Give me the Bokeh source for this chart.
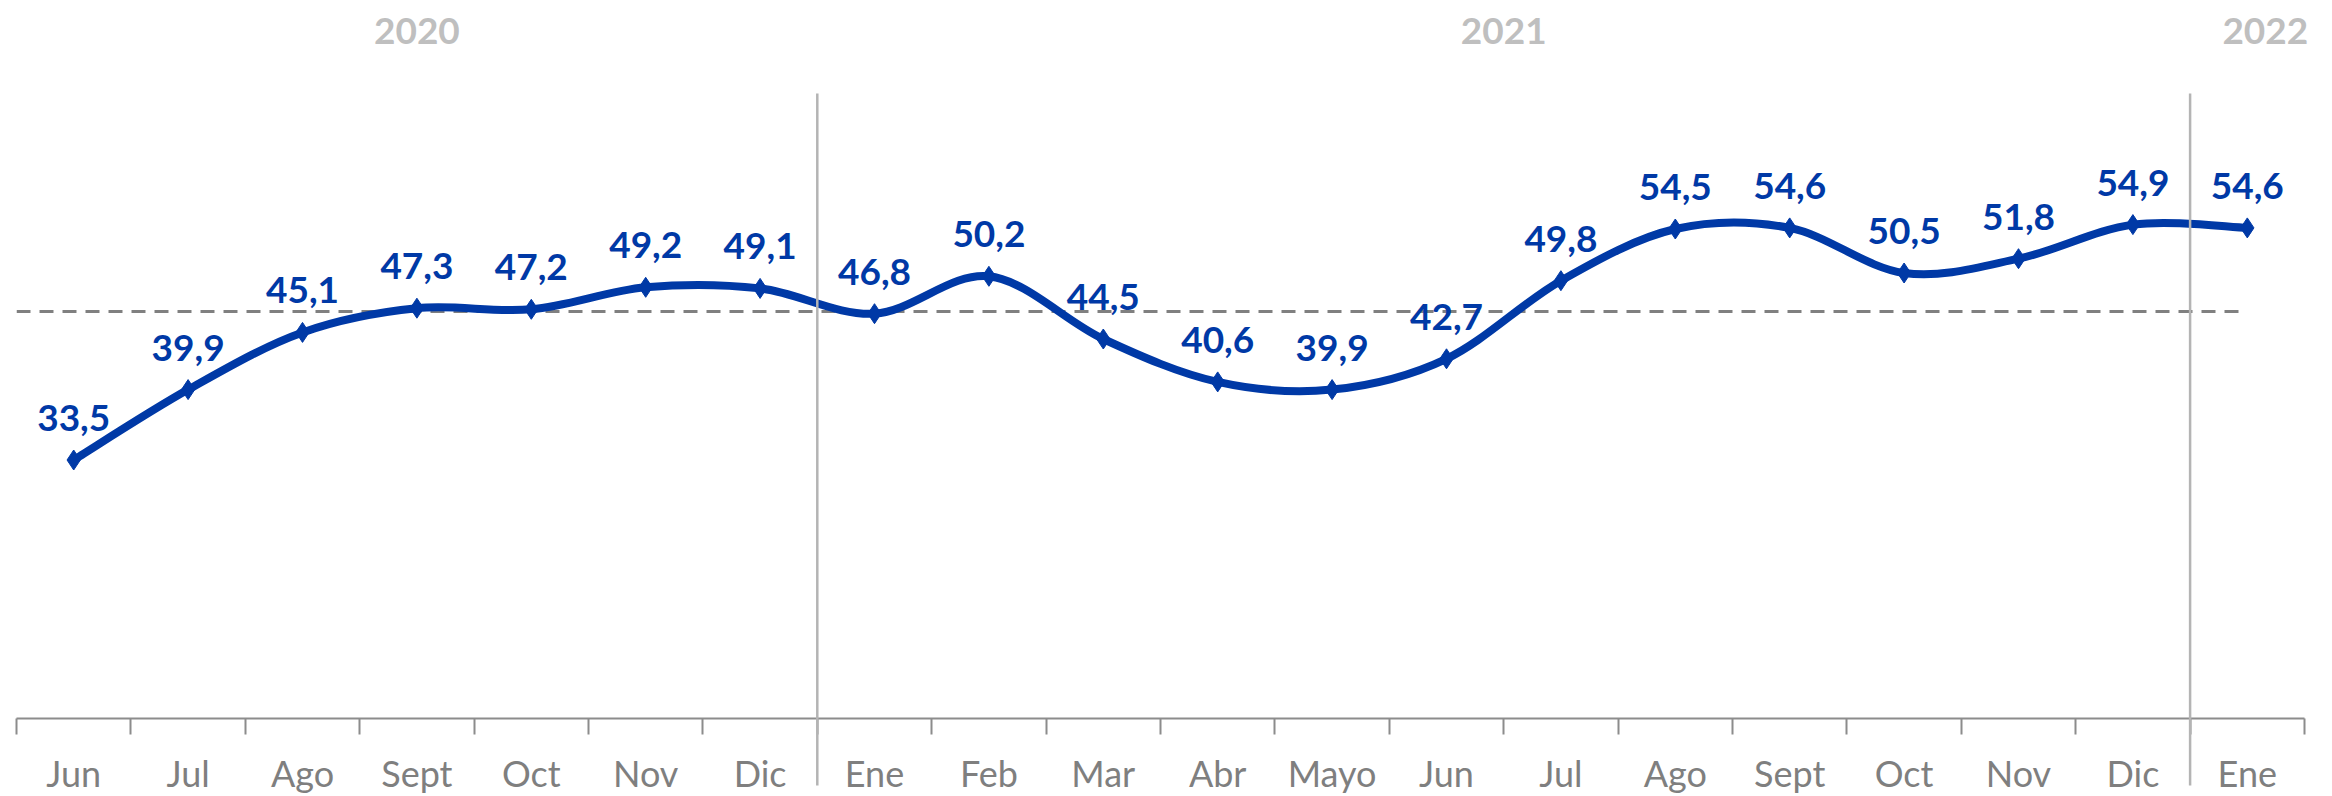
from bokeh.plotting import figure
from bokeh.models import Range1d, FixedTicker, ColumnDataSource
from bokeh.core.properties import value
from bokeh.embed import file_html
from bokeh.resources import INLINE

# ---- data ----
months = ["Jun", "Jul", "Ago", "Sept", "Oct", "Nov", "Dic",
          "Ene", "Feb", "Mar", "Abr", "Mayo", "Jun", "Jul", "Ago", "Sept", "Oct", "Nov", "Dic",
          "Ene"]
years = [2020] * 7 + [2021] * 12 + [2022]
values = [33.5, 39.9, 45.1, 47.3, 47.2, 49.2, 49.1,
          46.8, 50.2, 44.5, 40.6, 39.9, 42.7, 49.8, 54.5, 54.6, 50.5, 51.8, 54.9,
          54.6]
ref_value = 47.0

# ---- styling / layout ----
BLUE = "#0039a6"
AXIS_GRAY = "#8c8c8c"
LABEL_GRAY = "#7f7f7f"
YEAR_GRAY = "#bfbfbf"
SEP_GRAY = "#b4b4b4"
FONT = "Lato"
FRAME_W, FRAME_H = 2288, 710
PX_PER_UNIT = 11.0
Y0 = 10.0
Y1 = Y0 + FRAME_H / PX_PER_UNIT

def px_to_val(px_from_bottom):
    return Y0 + px_from_bottom / PX_PER_UNIT

n = len(values)
xs = list(range(n))
labels = [f"{v:.1f}".replace(".", ",") for v in values]

p = figure(frame_width=FRAME_W, frame_height=FRAME_H,
           x_range=Range1d(-0.5, n - 0.5), y_range=Range1d(Y0, Y1),
           output_backend="svg", toolbar_location=None, y_axis_location=None,
           min_border_left=16, min_border_right=24, min_border_top=8, min_border_bottom=70)
p.grid.visible = False
p.outline_line_color = None
p.background_fill_color = "white"
p.border_fill_color = "white"

ax = p.xaxis[0]
ax.ticker = FixedTicker(ticks=xs, minor_ticks=[i - 0.5 for i in range(n + 1)])
ax.major_label_overrides = {i: m for i, m in enumerate(months)}
ax.major_tick_line_color = None
ax.major_tick_out = 0
ax.major_tick_in = 0
ax.minor_tick_out = 16
ax.minor_tick_in = 0
ax.minor_tick_line_color = AXIS_GRAY
ax.minor_tick_line_width = 2
ax.axis_line_color = AXIS_GRAY
ax.axis_line_width = 2
ax.major_label_text_font = FONT
ax.major_label_text_font_size = "36px"
ax.major_label_text_color = LABEL_GRAY
ax.major_label_standoff = 16

# year separators
seps = [i - 0.5 for i in range(1, n) if years[i] != years[i - 1]]
p.segment(x0=seps, y0=[px_to_val(-67)] * len(seps), x1=seps, y1=[px_to_val(625)] * len(seps),
          line_color=SEP_GRAY, line_width=2.5, level="overlay")

# reference dashed line
p.segment(x0=[-0.5], y0=[ref_value], x1=[n - 1.05], y1=[ref_value],
          line_color="#808080", line_width=3, line_dash="14 9")

# smoothed line (Catmull-Rom as cubic Bezier segments)
def pt(i):
    i = min(max(i, 0), n - 1)
    return xs[i], values[i]

bx0, by0, bx1, by1, cx0, cy0, cx1, cy1 = [], [], [], [], [], [], [], []
for i in range(n - 1):
    xa, ya = pt(i - 1)
    xb, yb = pt(i)
    xc, yc = pt(i + 1)
    xd, yd = pt(i + 2)
    bx0.append(xb); by0.append(yb); bx1.append(xc); by1.append(yc)
    cx0.append(xb + (xc - xa) / 6); cy0.append(yb + (yc - ya) / 6)
    cx1.append(xc - (xd - xb) / 6); cy1.append(yc - (yd - yb) / 6)

p.bezier(x0=bx0, y0=by0, x1=bx1, y1=by1, cx0=cx0, cy0=cy0, cx1=cx1, cy1=cy1,
         line_color=BLUE, line_width=8, line_cap="round")

p.scatter(xs, values, marker="diamond", size=20, fill_color=BLUE, line_color=BLUE)

src = ColumnDataSource(dict(x=xs, y=values, t=labels))
p.text(x="x", y="y", text="t", source=src, text_align="center", text_baseline="alphabetic",
       y_offset=-42, text_font=value(FONT), text_font_style="bold", text_font_size="37px",
       text_color=BLUE)

# year labels
uniq_years = []
for y in years:
    if y not in uniq_years:
        uniq_years.append(y)
year_x = []
for y in uniq_years:
    idx = [i for i, yy in enumerate(years) if yy == y]
    year_x.append(sum(idx) / len(idx))
year_off = [0] * (len(uniq_years) - 1) + [18]
ysrc = ColumnDataSource(dict(x=year_x, y=[px_to_val(688)] * len(uniq_years),
                             t=[str(y) for y in uniq_years], xo=year_off))
p.text(x="x", y="y", text="t", source=ysrc, x_offset="xo", text_align="center",
       text_baseline="middle", text_font=value(FONT), text_font_style="bold",
       text_font_size="37px", text_color=YEAR_GRAY, level="overlay")

open("out.html", "w").write(file_html(p, INLINE))
